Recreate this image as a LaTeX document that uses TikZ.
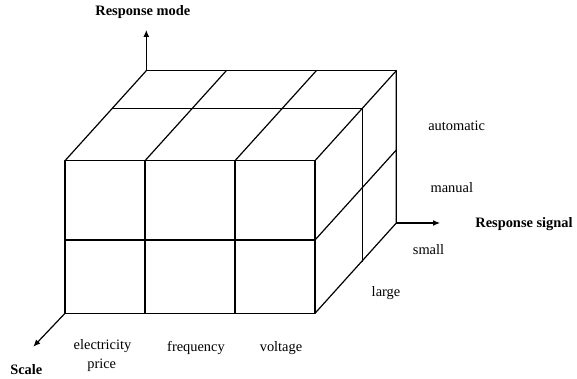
\documentclass[tikz,border=0pt]{standalone}
\usepackage{fontspec}
\setmainfont{Liberation Serif}
\usetikzlibrary{arrows.meta}
\begin{document}
\begin{tikzpicture}[x=1pt,y=1pt,
  edge/.style={line width=1.2pt,line cap=round,line join=round},
  axis/.style={line width=1.2pt,-{Latex[length=7pt,width=6pt]}},
  lab/.style={font=\fontsize{14.4}{17}\selectfont,inner sep=0pt},
  blab/.style={font=\fontsize{14.4}{17}\selectfont\bfseries,inner sep=0pt}]
\useasboundingbox (0,0) rectangle (577,-379);
% front face grid
\foreach \n/\x in {0/65,1/145,2/235,3/315}{
  \coordinate (ft\n) at (\x,-160.7);
  \coordinate (fm\n) at (\x,-240);
  \coordinate (fb\n) at (\x,-313.3);
  \coordinate (bt\n) at (\x+81.3,-70.7);
  \coordinate (mt\n) at (\x+47.4,-108.5);
}
\coordinate (bm3) at (396.3,-150);
\coordinate (bb3) at (396.3,-223);
\coordinate (mb3) at (362.4,-261.5);
% front face
\draw[edge] (ft0) rectangle (fb3);
\draw[edge] (ft1) -- (fb1) (ft2) -- (fb2) (fm0) -- (fm3);
% top face
\draw[edge] (bt0) -- (bt3) (mt0) -- (mt3);
\foreach \n in {0,1,2,3}{ \draw[edge] (ft\n) -- (bt\n); }
% right face
\draw[edge] (bt3) -- (bb3) -- (fb3);
\draw[edge] (mt3) -- (mb3);
\draw[edge] (fm3) -- (bm3);
% axes
\coordinate (upTip) at (146.3,-30);
\coordinate (rightTip) at (440,-223);
\coordinate (scaleTip) at (33.3,-346.7);
\draw[axis] (bt0) -- (upTip);
\draw[axis] (bb3) -- (rightTip);
\draw[axis] (fb0) -- (scaleTip);
% labels
\node[blab] (rmode) at (142.8,-12.5) {Response mode};
\node[blab] (rsig) at (524,-224.5) {Response signal};
\node[blab] (scale) at (26.3,-370) {Scale};
\node[lab] (auto) at (456.7,-126) {automatic};
\node[lab] (man) at (451.8,-187.3) {manual};
\node[lab] (small) at (428.5,-249.3) {small};
\node[lab] (large) at (386,-292.7) {large};
\node[lab] (elec) at (102.5,-345.7) {electricity};
\node[lab] (price) at (101.7,-365.7) {price};
\node[lab] (freq) at (196,-348.3) {frequency};
\node[lab] (volt) at (281,-348.3) {voltage};
\end{tikzpicture}
\end{document}
